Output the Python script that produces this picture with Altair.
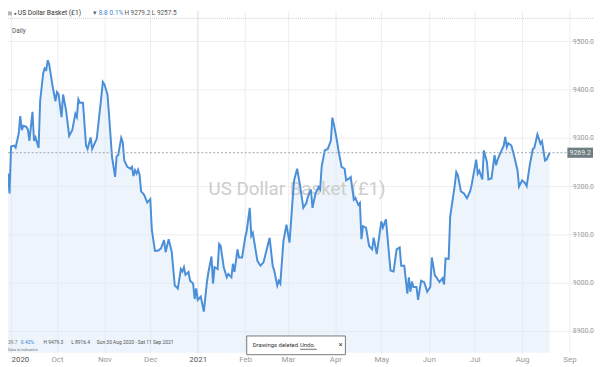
import altair as alt
import pandas as pd

# ---------------- data ----------------
dates = [
    "2020-08-30", "2020-08-31", "2020-09-01", "2020-09-03", "2020-09-04", "2020-09-06", "2020-09-07",
    "2020-09-08", "2020-09-09", "2020-09-11", "2020-09-12", "2020-09-13", "2020-09-15", "2020-09-16",
    "2020-09-17", "2020-09-19", "2020-09-20", "2020-09-22", "2020-09-23", "2020-09-24", "2020-09-25",
    "2020-09-26", "2020-09-28", "2020-09-30", "2020-10-01", "2020-10-02", "2020-10-04", "2020-10-05",
    "2020-10-07", "2020-10-09", "2020-10-11", "2020-10-13", "2020-10-14", "2020-10-15", "2020-10-16",
    "2020-10-18", "2020-10-20", "2020-10-21", "2020-10-23", "2020-10-24", "2020-10-26", "2020-10-27",
    "2020-10-30", "2020-10-31", "2020-11-01", "2020-11-03", "2020-11-04", "2020-11-06", "2020-11-08",
    "2020-11-09", "2020-11-10", "2020-11-12", "2020-11-13", "2020-11-14", "2020-11-16", "2020-11-18",
    "2020-11-19", "2020-11-20", "2020-11-21", "2020-11-22", "2020-11-23", "2020-11-24", "2020-11-25",
    "2020-11-27", "2020-11-29", "2020-12-01", "2020-12-02", "2020-12-04", "2020-12-06", "2020-12-08",
    "2020-12-10", "2020-12-11", "2020-12-13", "2020-12-15", "2020-12-17", "2020-12-19", "2020-12-21",
    "2020-12-22", "2020-12-23", "2020-12-24", "2020-12-26", "2020-12-27", "2020-12-29", "2020-12-30",
    "2020-12-31", "2021-01-01", "2021-01-03", "2021-01-05", "2021-01-07", "2021-01-08", "2021-01-10",
    "2021-01-11", "2021-01-12", "2021-01-14", "2021-01-15", "2021-01-16", "2021-01-18", "2021-01-20",
    "2021-01-21", "2021-01-23", "2021-01-24", "2021-01-25", "2021-01-27", "2021-01-28", "2021-01-30",
    "2021-02-01", "2021-02-02", "2021-02-04", "2021-02-05", "2021-02-06", "2021-02-09", "2021-02-11",
    "2021-02-13", "2021-02-17", "2021-02-19", "2021-02-20", "2021-02-22", "2021-02-23", "2021-02-24",
    "2021-02-26", "2021-02-28", "2021-03-02", "2021-03-04", "2021-03-05", "2021-03-07", "2021-03-09",
    "2021-03-11", "2021-03-13", "2021-03-14", "2021-03-16", "2021-03-17", "2021-03-19", "2021-03-21",
    "2021-03-22", "2021-03-23", "2021-03-25", "2021-03-27", "2021-03-29", "2021-03-30", "2021-03-31",
    "2021-04-02", "2021-04-03", "2021-04-05", "2021-04-07", "2021-04-08", "2021-04-10", "2021-04-11",
    "2021-04-13", "2021-04-14", "2021-04-16", "2021-04-17", "2021-04-18", "2021-04-19", "2021-04-21",
    "2021-04-23", "2021-04-25", "2021-04-26", "2021-04-28", "2021-05-01", "2021-05-02", "2021-05-04",
    "2021-05-07", "2021-05-09", "2021-05-11", "2021-05-13", "2021-05-14", "2021-05-16", "2021-05-18",
    "2021-05-19", "2021-05-20", "2021-05-21", "2021-05-22", "2021-05-24", "2021-05-25", "2021-05-27",
    "2021-05-29", "2021-05-31", "2021-06-02", "2021-06-03", "2021-06-05", "2021-06-06", "2021-06-08",
    "2021-06-10", "2021-06-11", "2021-06-12", "2021-06-14", "2021-06-15", "2021-06-18", "2021-06-19",
    "2021-06-20", "2021-06-22", "2021-06-24", "2021-06-26", "2021-06-28", "2021-06-29", "2021-07-02",
    "2021-07-03", "2021-07-04", "2021-07-06", "2021-07-07", "2021-07-09", "2021-07-10", "2021-07-12",
    "2021-07-14", "2021-07-15", "2021-07-16", "2021-07-18", "2021-07-20", "2021-07-21", "2021-07-22",
    "2021-07-23", "2021-07-25", "2021-07-27", "2021-07-29", "2021-07-30", "2021-08-01", "2021-08-03",
    "2021-08-04", "2021-08-06", "2021-08-08", "2021-08-09", "2021-08-11", "2021-08-13", "2021-08-14",
    "2021-08-16", "2021-08-17", "2021-08-19",
]
values = [
    9226, 9185, 9282, 9284, 9280, 9309, 9345,
    9316, 9325, 9323, 9317, 9294, 9354, 9294,
    9301, 9279, 9376, 9434, 9444, 9441, 9461,
    9451, 9410, 9376, 9395, 9391, 9343, 9390,
    9356, 9304, 9316, 9350, 9343, 9380, 9373,
    9373, 9284, 9277, 9301, 9277, 9291, 9298,
    9385, 9416, 9411, 9390, 9349, 9260, 9219,
    9262, 9264, 9300, 9291, 9253, 9240, 9236,
    9240, 9221, 9233, 9226, 9234, 9223, 9189,
    9182, 9166, 9173, 9110, 9066, 9066, 9071,
    9088, 9063, 9090, 9064, 8994, 8988, 9028,
    9023, 9032, 9016, 9022, 9004, 8998, 8966,
    8988, 8964, 8971, 8940, 9001, 9022, 9054,
    8998, 9032, 9028, 9080, 9076, 9032, 9011,
    9018, 9011, 9039, 9022, 9069, 9052, 9052,
    9093, 9107, 9155, 9097, 9103, 9045, 9035,
    9042, 9093, 9035, 9025, 8994, 9004, 8998,
    9086, 9120, 9083, 9172, 9212, 9236, 9199,
    9155, 9165, 9178, 9193, 9155, 9185, 9198,
    9193, 9240, 9274, 9277, 9294, 9342, 9328,
    9294, 9274, 9240, 9236, 9212, 9216, 9219,
    9172, 9175, 9161, 9165, 9090, 9117, 9114,
    9076, 9069, 9093, 9059, 9127, 9114, 9131,
    9025, 9023, 9069, 9073, 9035, 9035, 8977,
    9011, 8981, 9002, 8991, 8991, 8964, 9004,
    9001, 8981, 8991, 9052, 9015, 9011, 9001,
    9009, 8996, 9050, 9049, 9137, 9202, 9229,
    9223, 9189, 9185, 9175, 9189, 9202, 9255,
    9226, 9232, 9214, 9274, 9250, 9214, 9216,
    9264, 9243, 9255, 9270, 9284, 9302, 9281,
    9289, 9284, 9260, 9233, 9199, 9212, 9206,
    9200, 9243, 9277, 9279, 9307, 9288, 9293,
    9253, 9255, 9269.2,
]
y_ticks = [8900, 9000, 9100, 9200, 9300, 9400, 9500]
tick_months = [(2020, 9), (2020, 10), (2020, 11), (2020, 12), (2021, 1), (2021, 2), (2021, 3),
               (2021, 4), (2021, 5), (2021, 6), (2021, 7), (2021, 8), (2021, 9)]
last_price = 9269.2
title_text = "US Dollar Basket (£1)"
header_change = "8.8"
header_pct = "0.1%"
header_hl = "H 9279.2  L 9257.5"
info_change = "39.7"
info_pct = "0.43%"
info_high = "H 9479.3"
info_low = "L 8916.4"
info_range = "Sun 30 Aug 2020 - Sat 11 Sep 2021"

df = pd.DataFrame({"date": dates, "value": values})
one = pd.DataFrame({"k": [0]})

W, H = 594, 347
Y_MIN, Y_MAX = 8854.6, 9564.2
FONT = "Roboto"
BLUE = "#4a8fd8"

year_test = ("utcmonth(datum.value) == 0 || "
             "(utcyear(datum.value) == 2020 && utcmonth(datum.value) == 8)")

xscale = alt.Scale(type="utc", domain=[alt.DateTime(year=2020, month=8, date=30, utc=True),
                                        alt.DateTime(year=2021, month=9, date=17, utc=True)])
yscale = alt.Scale(domain=[Y_MIN, Y_MAX], nice=False, zero=False)

x_axis = alt.Axis(
    values=[alt.DateTime(year=y, month=m, date=1, utc=True) for y, m in tick_months],
    labelExpr=f"({year_test}) ? utcFormat(datum.value, '%Y') : utcFormat(datum.value, '%b')",
    labelColor={"condition": {"test": year_test, "value": "#555555"}, "value": "#9a9a9a"},
    gridColor={"condition": {"test": "utcmonth(datum.value) == 0", "value": "#dcdcdc"}, "value": "#eeeeee"},
    grid=True, domain=False, ticks=False, labelFontSize=8, labelPadding=3,
    labelFlush=8, title=None, labelFont=FONT,
)
y_axis = alt.Axis(
    orient="right", values=y_ticks, format=".1f", offset=-22, labelPadding=0,
    ticks=False, tickSize=0, domain=False, grid=True, gridColor="#eeeeee",
    labelFontSize=7, labelColor="#9a9a9a", labelAlign="left", title=None, labelFont=FONT,
)

X = alt.X("date:T", scale=xscale, axis=x_axis)
Y = alt.Y("value:Q", scale=yscale, axis=y_axis)

area = alt.Chart(df).mark_area(color="#d6e6f8", opacity=0.45).encode(
    x=X, y=Y, y2=alt.datum(Y_MIN))

line = alt.Chart(df).mark_line(color=BLUE, strokeWidth=2).encode(
    x=alt.X("date:T", scale=xscale), y=alt.Y("value:Q", scale=yscale))

def txt(s, x, y, size=7, color="#333333", align="left", baseline="middle"):
    return alt.Chart(one).mark_text(text=s, font=FONT, fontSize=size, color=color,
                                    align=align, baseline=baseline).encode(
        x=alt.value(x), y=alt.value(y))

watermark = txt(title_text, 293, 181, size=19, color="#cdcdcd", align="center")

last_rule = alt.Chart(one).mark_rule(color="#9aa6ad", strokeDash=[2, 2], strokeWidth=1).encode(
    x=alt.value(0), x2=alt.value(567), y=alt.datum(last_price))
price_box = alt.Chart(one).mark_rect(color="#6e7e80").encode(
    x=alt.value(567), x2=alt.value(593),
    y=alt.datum(last_price + 10.5), y2=alt.datum(last_price - 10.5))
price_txt = alt.Chart(one).mark_text(text=f"{last_price:.1f}", font=FONT, fontSize=7,
                                     color="#eeeeee", align="center", baseline="middle").encode(
    x=alt.value(580), y=alt.datum(last_price))

sep = alt.Chart(one).mark_rule(color="#cccccc", strokeDash=[1, 1]).encode(
    x=alt.value(0), x2=alt.value(W), y=alt.value(8))
icon = alt.Chart(one).mark_rect(color="#b5b5b5").encode(
    x=alt.value(0), x2=alt.value(4), y=alt.value(1), y2=alt.value(5))

header = [
    txt("●", 6, 3, size=5, color="#555555"),
    txt(title_text, 10, 3, size=6.8, color="#333333"),
    txt("▾", 86, 3, size=7, color="#666666"),
    txt(header_change, 92, 3, size=6.5, color="#3c7fd4"),
    txt(header_pct, 103, 3, size=6.5, color="#3c7fd4"),
    txt(header_hl, 118, 3, size=6.5, color="#555555"),
    txt("Daily", 4, 21, size=6.5, color="#555555"),
]

info = [
    txt(info_change, 0, 336, size=5, color="#777777"),
    txt(info_pct, 13, 336, size=5, color="#3c7fd4"),
    txt(info_high, 36, 336, size=5, color="#555555"),
    txt(info_low, 64, 336, size=5, color="#555555"),
    txt(info_range, 90, 336, size=5, color="#555555"),
    txt("Data is indicative", 0, 344.5, size=4, color="#777777"),
]

toast_box = alt.Chart(one).mark_rect(fill="#ffffff", stroke="#777777", strokeWidth=1).encode(
    x=alt.value(242), x2=alt.value(342), y=alt.value(330), y2=alt.value(349))
toast = [
    toast_box,
    txt("Drawings deleted.", 248, 339.5, size=6, color="#333333"),
    txt("Undo.", 296, 339.5, size=6, color="#333333"),
    alt.Chart(one).mark_rule(color="#333333", strokeWidth=0.7).encode(
        x=alt.value(296), x2=alt.value(313), y=alt.value(343.5)),
    txt("×", 335, 339.5, size=8, color="#444444"),
]

chart = alt.layer(
    area, watermark, line, last_rule, price_box, price_txt, sep, icon, *header, *info, *toast
).properties(
    width=W, height=H,
    autosize=alt.AutoSizeParams(type="none"),
    padding={"left": 0, "top": 0, "right": 0, "bottom": 12},
).configure_view(stroke=None)

chart.save("out.html", embed_options={"renderer": "svg", "actions": False})
